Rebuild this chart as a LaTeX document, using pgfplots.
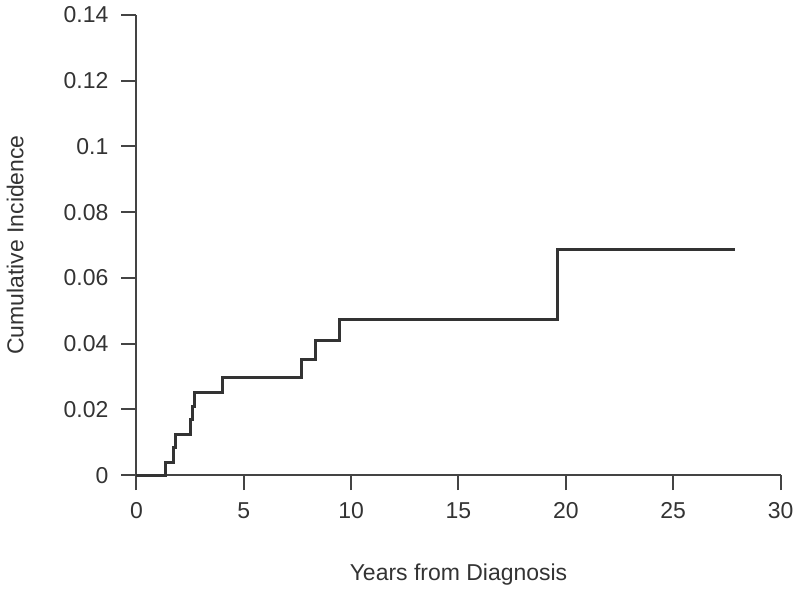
\documentclass[border=0pt]{standalone}
\usepackage{pgfplots}
\pgfplotsset{compat=1.18}
\usepackage{fontspec}
\setmainfont{Liberation Sans}
\definecolor{ink}{HTML}{333333}
\definecolor{axisgray}{HTML}{444444}

\begin{document}
\begin{tikzpicture}
\begin{axis}[
    scale only axis,
    width=322.5pt,
    height=230.5pt,
    xmin=0, xmax=30,
    ymin=0, ymax=0.14,
    axis x line=bottom,
    axis y line=left,
    axis line style={-, axisgray, line width=1pt},
    xtick={0,5,...,30},
    ytick={0,0.02,0.04,0.06,0.08,0.1,0.12,0.14},
    yticklabels={0,0.02,0.04,0.06,0.08,0.1,0.12,0.14},
    tick style={axisgray, line width=1pt},
    tick align=outside,
    major tick length=7.5pt,
    tick label style={font=\fontsize{11.5}{13}\selectfont, text=ink},
    yticklabel style={xshift=-3pt},
    xticklabel style={yshift=-2.5pt},
    /pgf/number format/assume math mode=true,
    xlabel={Years from Diagnosis},
    ylabel={Cumulative Incidence},
    label style={font=\fontsize{11.5}{13}\selectfont, text=ink},
    xlabel style={at={(axis description cs:0.5,0)}, anchor=north, yshift=-41pt},
    ylabel style={at={(axis description cs:-0.2124,0.5)}, anchor=north},
    clip=false,
]
\addplot[const plot, color=ink, line width=1.5pt] coordinates {
(0,0) (1.35,0.004) (1.75,0.0085) (1.8,0.0125) (2.5,0.017) (2.62,0.021)
(2.7,0.0252) (4.0,0.0297) (7.67,0.0352) (8.33,0.0409) (9.44,0.0472)
(19.6,0.0686) (27.86,0.0686)
};
\end{axis}
\end{tikzpicture}
\end{document}
